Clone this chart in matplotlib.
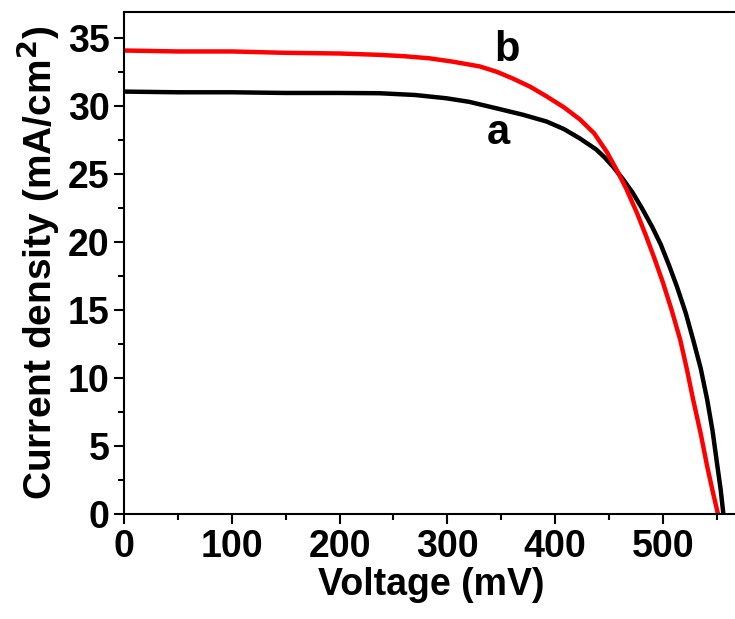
import numpy as np
import matplotlib
matplotlib.use("Agg")
import matplotlib.pyplot as plt
from matplotlib.ticker import MultipleLocator

plt.rcParams['font.family'] = ['Liberation Sans', 'DejaVu Sans']
plt.rcParams['font.weight'] = 'bold'
fsize = 27

# curve a (black)
volt_a = [0, 50, 100, 150, 200, 237, 270, 299, 320, 345, 370, 392, 408, 423, 438, 446,
          454, 463, 472, 481, 490, 498, 506, 513, 521, 528, 535, 541, 546, 550.5, 553.5, 556]
curr_a = [31.05, 31.0, 31.0, 30.95, 30.95, 30.93, 30.8, 30.56, 30.3, 29.83, 29.35, 28.85,
          28.3, 27.6, 26.8, 26.2, 25.5, 24.6, 23.6, 22.4, 21.1, 19.8, 18.2, 16.7, 14.8, 12.8,
          10.7, 8.4, 6.1, 3.5, 1.8, 0.0]

# curve b (red)
volt_b = [0, 50, 100, 150, 200, 237, 260, 283, 305, 330, 346, 361, 377, 392, 408, 423,
          436, 448, 457, 466, 476, 484, 492, 500, 508, 516, 522, 528, 535, 541, 546, 551]
curr_b = [34.07, 34.0, 34.0, 33.9, 33.85, 33.75, 33.65, 33.5, 33.25, 32.9, 32.5, 32.0, 31.4,
          30.7, 29.9, 29.0, 28.0, 26.6, 25.3, 23.9, 22.1, 20.5, 18.8, 17.0, 15.0, 12.8,
          10.7, 8.4, 5.9, 3.5, 1.7, 0.0]

fig = plt.figure(figsize=(7.35, 6.19), dpi=100)
ax = fig.add_axes([0.1687, 0.1696, 0.836, 0.811])

ax.plot(volt_a, curr_a, color='black', lw=3.2)
ax.plot(volt_b, curr_b, color='#ff0000', lw=3.2)

ax.text(347, 28.0, 'a', fontsize=fsize + 3, fontweight='bold', ha='center', va='center')
ax.text(355, 34.1, 'b', fontsize=fsize + 3, fontweight='bold', ha='center', va='center')

ax.set_xlim(0, 570)
ax.set_ylim(0, 36.9)
ax.xaxis.set_major_locator(MultipleLocator(100))
ax.xaxis.set_minor_locator(MultipleLocator(50))
ax.yaxis.set_major_locator(MultipleLocator(5))
ax.yaxis.set_minor_locator(MultipleLocator(2.5))
ax.tick_params(which='major', length=7, width=1.5, labelsize=fsize, direction='out')
ax.tick_params(which='minor', length=4, width=1.5, direction='out')
ax.spines['right'].set_visible(False)
for s in ['left', 'bottom', 'top']:
    ax.spines[s].set_linewidth(1.5)

ax.set_xlabel('Voltage (mV)', fontsize=fsize, fontweight='bold', labelpad=2)
ax.set_ylabel(r'Current density (mA/cm$^\mathbf{2}$)', fontsize=fsize + 1, fontweight='bold', labelpad=4)

plt.savefig('out.png', dpi=100)
